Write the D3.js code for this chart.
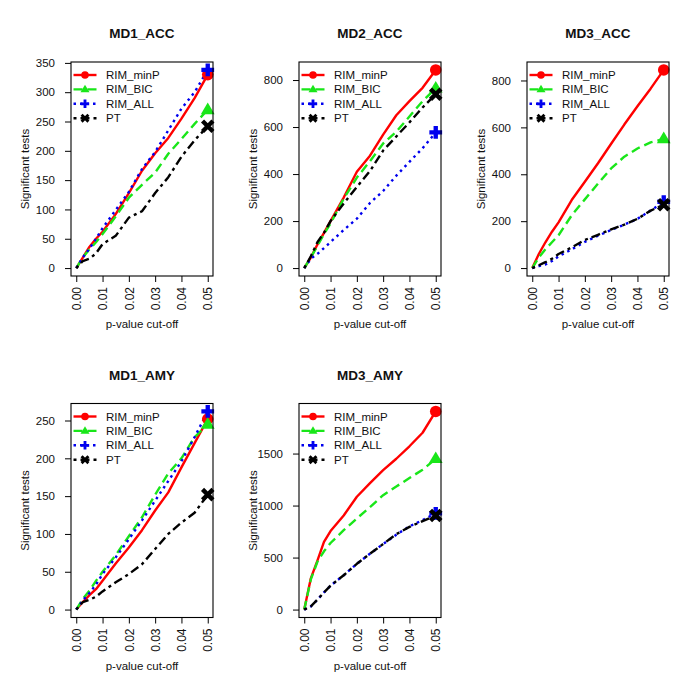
<!DOCTYPE html>
<html>
<head>
<meta charset="utf-8">
<script src="https://cdn.jsdelivr.net/npm/d3@7"></script>
<style>
  html, body { margin: 0; padding: 0; background: #fff; }
  svg { display: block; font-family: "Liberation Sans", Arial, sans-serif; }
</style>
</head>
<body>
<svg id="chart" width="685" height="691"></svg>
<script>
// ---------------- DATA ----------------
const pValues = [0, 0.0025, 0.005, 0.0075, 0.01, 0.015, 0.02, 0.025, 0.03, 0.035, 0.04, 0.045, 0.05];
const xTicks = [0, 0.01, 0.02, 0.03, 0.04, 0.05];
const seriesNames = ["RIM_minP", "RIM_BIC", "RIM_ALL", "PT"];
const panelTitles = ["MD1_ACC", "MD2_ACC", "MD3_ACC", "MD1_AMY", "MD3_AMY"];

// MD1_ACC
const md1AccMinP = [0, 18, 36, 50, 62, 92, 128, 166, 196, 222, 255, 290, 330];
const md1AccBIC  = [0, 18, 32, 44, 58, 88, 120, 142, 163, 195, 220, 246, 270];
const md1AccALL  = [0, 18, 33, 50, 68, 99, 130, 169, 198, 235, 272, 300, 338];
const md1AccPT   = [0, 12, 16, 25, 41, 55, 86, 97, 128, 155, 190, 218, 242];
const md1AccTicks = [0, 50, 100, 150, 200, 250, 300, 350];

// MD2_ACC
const md2AccMinP = [0, 45, 100, 150, 200, 300, 410, 478, 568, 650, 710, 767, 843];
const md2AccBIC  = [0, 45, 95, 145, 190, 295, 385, 455, 530, 580, 645, 710, 765];
const md2AccALL  = [0, 40, 60, 85, 111, 162, 210, 277, 328, 393, 452, 510, 577];
const md2AccPT   = [0, 50, 110, 150, 200, 275, 345, 413, 500, 560, 620, 683, 740];
const md2AccTicks = [0, 200, 400, 600, 800];

// MD3_ACC
const md3AccMinP = [0, 60, 110, 155, 195, 290, 368, 447, 530, 612, 690, 765, 845];
const md3AccBIC  = [0, 45, 80, 110, 140, 225, 293, 360, 425, 475, 510, 536, 551];
const md3AccALL  = [0, 8, 15, 30, 50, 80, 112, 138, 162, 185, 210, 245, 283];
const md3AccPT   = [0, 12, 25, 40, 60, 88, 120, 142, 165, 185, 210, 245, 270];
const md3AccTicks = [0, 200, 400, 600, 800];

// MD1_AMY
const md1AmyMinP = [0, 10, 19, 27, 38, 61, 82, 105, 131, 155, 188, 220, 252];
const md1AmyBIC  = [0, 14, 25, 38, 50, 72, 97, 122, 152, 180, 200, 228, 245];
const md1AmyALL  = [0, 12, 22, 33, 47, 69, 93, 118, 144, 170, 196, 228, 262];
const md1AmyPT   = [0, 10, 13, 17, 24, 36, 47, 60, 80, 100, 115, 128, 152];
const md1AmyTicks = [0, 50, 100, 150, 200, 250];

// MD3_AMY
const md3AmyMinP = [0, 300, 470, 650, 755, 905, 1085, 1215, 1340, 1450, 1570, 1700, 1905];
const md3AmyBIC  = [0, 290, 460, 560, 640, 763, 876, 985, 1100, 1183, 1264, 1345, 1450];
const md3AmyALL  = [0, 30, 95, 165, 230, 330, 440, 537, 630, 720, 800, 860, 925];
const md3AmyPT   = [0, 30, 95, 165, 230, 330, 440, 537, 630, 725, 795, 850, 905];
const md3AmyTicks = [0, 500, 1000, 1500];

const panelSeries = [
  [md1AccMinP, md1AccBIC, md1AccALL, md1AccPT],
  [md2AccMinP, md2AccBIC, md2AccALL, md2AccPT],
  [md3AccMinP, md3AccBIC, md3AccALL, md3AccPT],
  [md1AmyMinP, md1AmyBIC, md1AmyALL, md1AmyPT],
  [md3AmyMinP, md3AmyBIC, md3AmyALL, md3AmyPT]
];
const panelTicks = [md1AccTicks, md2AccTicks, md3AccTicks, md1AmyTicks, md3AmyTicks];

// ---------------- STYLE ----------------
const colors = ["#ff0000", "#19e619", "#0000ee", "#000000"];
const dashes = [null, "9,5", "2.5,4", "3,4,9,4"];
const markerTypes = ["circle", "triangle", "plus", "cross"];
const textColor = "#111";

const svg = d3.select("#chart");

function drawMarker(g, type, cx, cy, size, color) {
  if (type === "circle") {
    g.append("circle").attr("cx", cx).attr("cy", cy).attr("r", size).attr("fill", color);
  } else if (type === "triangle") {
    const s = size * 1.25;
    g.append("path")
      .attr("d", `M${cx},${cy - s} L${cx + s * 0.95},${cy + s * 0.6} L${cx - s * 0.95},${cy + s * 0.6} Z`)
      .attr("fill", color);
  } else if (type === "plus") {
    const a = size * 1.1;
    g.append("path")
      .attr("d", `M${cx - a},${cy} L${cx + a},${cy} M${cx},${cy - a} L${cx},${cy + a}`)
      .attr("stroke", color).attr("stroke-width", size * 0.75).attr("fill", "none");
  } else if (type === "cross") {
    const a = size * 0.9;
    g.append("path")
      .attr("d", `M${cx - a},${cy - a} L${cx + a},${cy + a} M${cx - a},${cy + a} L${cx + a},${cy - a}`)
      .attr("stroke", color).attr("stroke-width", size * 0.75).attr("fill", "none");
  }
}

panelTitles.forEach((title, i) => {
  const col = i % 3, row = Math.floor(i / 3);
  const left = 71 + col * 228;
  const top = row === 0 ? 62 : 403.5;
  const w = 142, h = 214;
  const series = panelSeries[i];
  const ymax = d3.max(series.flat());

  const x = d3.scaleLinear().domain([-0.002, 0.052]).range([left, left + w]);
  const y = d3.scaleLinear().domain([-0.04 * ymax, 1.04 * ymax]).range([top + h, top]);

  const g = svg.append("g");

  // Lines
  series.forEach((vals, s) => {
    const line = d3.line().x((d, k) => x(pValues[k])).y(d => y(d));
    g.append("path")
      .datum(vals)
      .attr("d", line)
      .attr("fill", "none")
      .attr("stroke", colors[s])
      .attr("stroke-width", 2.4)
      .attr("stroke-linejoin", "round")
      .attr("stroke-dasharray", dashes[s]);
  });

  // End markers
  series.forEach((vals, s) => {
    const last = vals.length - 1;
    drawMarker(g, markerTypes[s], x(pValues[last]), y(vals[last]), 5.8, colors[s]);
  });

  // Box
  g.append("rect")
    .attr("x", left).attr("y", top).attr("width", w).attr("height", h)
    .attr("fill", "none").attr("stroke", "#000").attr("stroke-width", 1.1);

  // Y axis
  const yAxis = g.append("g")
    .attr("transform", `translate(${left},0)`)
    .call(d3.axisLeft(y).tickValues(panelTicks[i]).tickSize(6).tickPadding(10).tickFormat(d3.format("d")));
  yAxis.select(".domain").remove();
  yAxis.selectAll("text").attr("font-size", "11.5px").attr("fill", textColor)
    .attr("font-family", "Liberation Sans, Arial, sans-serif");
  yAxis.selectAll("line").attr("stroke", "#000");

  // X axis
  const xAxis = g.append("g")
    .attr("transform", `translate(0,${top + h})`)
    .call(d3.axisBottom(x).tickValues(xTicks).tickSize(6).tickFormat(d3.format(".2f")));
  xAxis.select(".domain").remove();
  xAxis.selectAll("line").attr("stroke", "#000");
  xAxis.selectAll("text")
    .attr("transform", "rotate(-90)")
    .attr("x", -11).attr("y", 0).attr("dy", "0.35em")
    .attr("text-anchor", "end")
    .attr("font-size", "12px").attr("fill", textColor)
    .attr("font-family", "Liberation Sans, Arial, sans-serif");

  // Title
  g.append("text")
    .attr("x", left + w / 2).attr("y", top - 24)
    .attr("text-anchor", "middle")
    .attr("font-size", "13.5px").attr("font-weight", "bold").attr("fill", textColor)
    .text(title);

  // Axis titles
  g.append("text")
    .attr("x", left + w / 2).attr("y", top + h + 52)
    .attr("text-anchor", "middle")
    .attr("font-size", "11.5px").attr("fill", textColor)
    .text("p-value cut-off");

  g.append("text")
    .attr("transform", `translate(${left - 42.5},${top + h / 2}) rotate(-90)`)
    .attr("text-anchor", "middle")
    .attr("font-size", "11.5px").attr("fill", textColor)
    .text("Significant tests");

  // Legend
  const lg = g.append("g");
  seriesNames.forEach((name, s) => {
    const ly = top + 13 + s * 14.4;
    lg.append("line")
      .attr("x1", left + 2.5).attr("x2", left + 25.5)
      .attr("y1", ly).attr("y2", ly)
      .attr("stroke", colors[s]).attr("stroke-width", 2.4)
      .attr("stroke-dasharray", dashes[s]);
    drawMarker(lg, markerTypes[s], left + 14, ly, 3.8, colors[s]);
    lg.append("text")
      .attr("x", left + 35).attr("y", ly).attr("dy", "0.35em")
      .attr("font-size", "11.5px").attr("fill", textColor)
      .text(name);
  });
});
</script>
</body>
</html>
